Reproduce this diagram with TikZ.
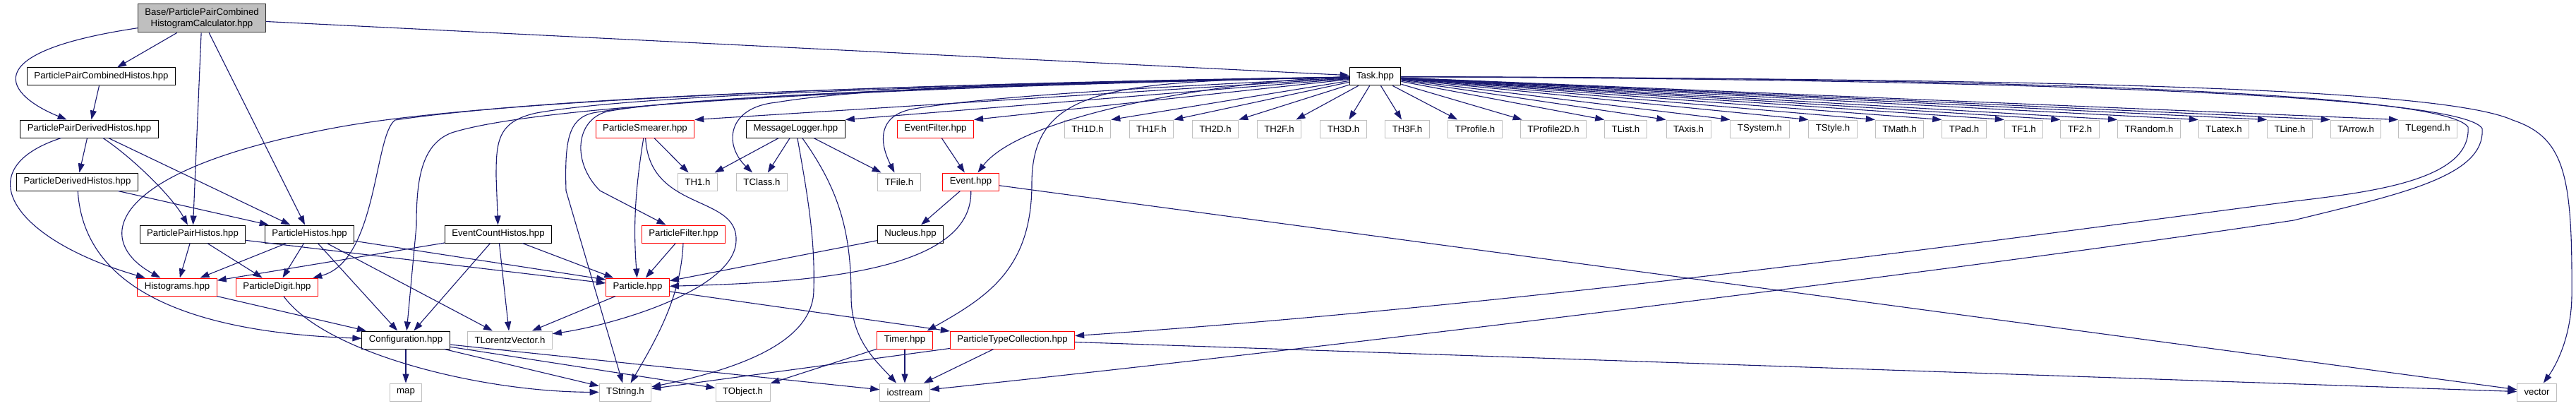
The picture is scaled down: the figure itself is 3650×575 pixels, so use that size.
\documentclass[tikz,border=0pt]{standalone}
\usepackage{fontspec}
\setmainfont{Liberation Sans}
\usetikzlibrary{arrows.meta}
\definecolor{edgec}{HTML}{191970}
\definecolor{extgray}{HTML}{BFBFBF}
\definecolor{truncred}{HTML}{FF0000}
\definecolor{basegray}{HTML}{BFBFBF}
\newcommand\nodefont{\fontsize{13.2}{15.5}\selectfont}
\begin{document}
\begin{tikzpicture}[x=1pt,y=-1pt,
  nbox/.style={rectangle, minimum height=25pt, inner xsep=10pt, inner ysep=0pt, font=\nodefont, line width=1pt, text=black},
  boxdoc/.style={nbox, draw=black},
  boxred/.style={nbox, draw=truncred},
  boxext/.style={nbox, draw=extgray},
  conn/.style={draw=edgec, line width=1.1pt, -{Triangle[length=13pt,width=9pt]}}]
\fill[white] (0,0) rectangle (3650,575);
\useasboundingbox (0,0) rectangle (3650,575);
% row A
\node[boxdoc, fill=basegray, draw=black!80, align=center, minimum height=40pt] (base) at (286,26) {Base/ParticlePairCombined\\HistogramCalculator.hpp};
% row B
\node[boxdoc] (ppch) at (143.5,108.5) {ParticlePairCombinedHistos.hpp};
\node[boxdoc] (task) at (1948.5,108.5) {Task.hpp};
% row C
\node[boxdoc] (ppdh) at (126.5,182.5) {ParticlePairDerivedHistos.hpp};
\node[boxred] (psmear) at (914,182.5) {ParticleSmearer.hpp};
\node[boxdoc] (mlog) at (1127.5,182.5) {MessageLogger.hpp};
\node[boxred] (efilter) at (1325.5,182.5) {EventFilter.hpp};
\node[boxext] (th1d) at (1541,182.5) {TH1D.h};
\node[boxext] (th1f) at (1631.5,182.5) {TH1F.h};
\node[boxext] (th2d) at (1722,182.5) {TH2D.h};
\node[boxext] (th2f) at (1812.5,182.5) {TH2F.h};
\node[boxext] (th3d) at (1903.5,182.5) {TH3D.h};
\node[boxext] (th3f) at (1994,182.5) {TH3F.h};
\node[boxext] (tprof) at (2090,182.5) {TProfile.h};
\node[boxext] (tproftwo) at (2201,182.5) {TProfile2D.h};
\node[boxext] (tlist) at (2303.5,182.5) {TList.h};
\node[boxext] (taxis) at (2392.5,182.5) {TAxis.h};
\node[boxext] (tsystem) at (2493.5,182.5) {TSystem.h};
\node[boxext] (tstyle) at (2597,182.5) {TStyle.h};
\node[boxext] (tmath) at (2691.5,182.5) {TMath.h};
\node[boxext] (tpad) at (2783,182.5) {TPad.h};
\node[boxext] (tfone) at (2867.5,182.5) {TF1.h};
\node[boxext] (tftwo) at (2947,182.5) {TF2.h};
\node[boxext] (trandom) at (3045,182.5) {TRandom.h};
\node[boxext] (tlatex) at (3151,182.5) {TLatex.h};
\node[boxext] (tline) at (3244.5,182.5) {TLine.h};
\node[boxext] (tarrow) at (3338,182.5) {TArrow.h};
\node[boxext] (tlegend) at (3440,182.5) {TLegend.h};
% row D
\node[boxdoc] (pdh) at (109.5,257.5) {ParticleDerivedHistos.hpp};
\node[boxext] (thone) at (988.5,257.5) {TH1.h};
\node[boxext] (tclass) at (1079.5,257.5) {TClass.h};
\node[boxext] (tfile) at (1274,257.5) {TFile.h};
\node[boxred] (event) at (1375.5,257.5) {Event.hpp};
% row E
\node[boxdoc] (pph) at (273,331.5) {ParticlePairHistos.hpp};
\node[boxdoc] (ph) at (438.5,331.5) {ParticleHistos.hpp};
\node[boxdoc] (ech) at (706,331.5) {EventCountHistos.hpp};
\node[boxred] (pfilter) at (968.5,331.5) {ParticleFilter.hpp};
\node[boxdoc] (nucleus) at (1290,331.5) {Nucleus.hpp};
% row F
\node[boxred] (hist) at (251,406.5) {Histograms.hpp};
\node[boxred] (pdigit) at (392.5,406.5) {ParticleDigit.hpp};
\node[boxred] (particle) at (903.5,406.5) {Particle.hpp};
% row G
\node[boxdoc] (conf) at (575,481.5) {Configuration.hpp};
\node[boxext] (tlv) at (722.5,481.5) {TLorentzVector.h};
\node[boxred] (timer) at (1282,481.5) {Timer.hpp};
\node[boxred] (ptc) at (1434.5,481.5) {ParticleTypeCollection.hpp};
% row H
\node[boxext] (map) at (575,555.5) {map};
\node[boxext] (tstring) at (886,555.5) {TString.h};
\node[boxext] (tobject) at (1052.5,555.5) {TObject.h};
\node[boxext] (iostream) at (1282,555.5) {iostream};
\node[boxext] (vector) at (3594.5,555.5) {vector};

% Base
\draw[conn] (base) -- (ppch);
\draw[conn] (base) .. controls (-40,75) and (10,135) .. (ppdh);
\draw[conn] (base) -- (pph);
\draw[conn] (base) -- (ph);
\draw[conn] (base) -- (task);
% PPCH, PPDH, PDH
\draw[conn] (ppch) -- (ppdh);
\draw[conn] (ppdh) -- (pdh);
\draw[conn] (ppdh) .. controls (-50,240) and (20,340) .. (hist);
\draw[conn] (ppdh) .. controls (190,225) and (245,280) .. (pph);
\draw[conn] (ppdh) -- (ph);
\draw[conn] (pdh) -- (ph);
\draw[conn] (pdh) .. controls (118,400) and (250,470) .. (conf);
% PPH, PH, ECH
\draw[conn] (pph) -- (hist);
\draw[conn] (pph) -- (pdigit);
\draw[conn] (pph) -- ([yshift=5.5pt]particle.west);
\draw[conn] (ph) -- (hist);
\draw[conn] (ph) -- (pdigit);
\draw[conn] (ph) -- (conf);
\draw[conn] (ph) -- (tlv);
\draw[conn] (ph) -- ([yshift=10.5pt]particle.west);
\draw[conn] (ech) -- (hist);
\draw[conn] (ech) -- (conf);
\draw[conn] (ech) -- (tlv);
\draw[conn] (ech) -- (particle);
% Histograms, ParticleDigit, Configuration
\draw[conn] (hist) -- (conf);
\draw[conn] (pdigit) .. controls (460,500) and (680,555) .. (tstring);
\draw[conn] (conf) -- (map);
\draw[conn] (conf) -- (tstring);
\draw[conn] (conf) -- (tobject);
\draw[conn] (conf) -- (iostream);
% Particle
\draw[conn] (particle) -- (tlv);
\draw[conn] (particle) -- (ptc);
% ParticleSmearer
\draw[conn] (psmear) -- (thone);
\draw[conn] (psmear) .. controls (898,280) and (898,330) .. (particle);
\draw[conn] (psmear) .. controls (920,300) and (1045,275) .. (1043,340) .. controls (1043,410) and (870,460) .. (tlv);
% MessageLogger
\draw[conn] (mlog) -- (thone);
\draw[conn] (mlog) -- (tclass);
\draw[conn] (mlog) -- (tfile);
\draw[conn] (mlog) .. controls (1145,280) and (1155,340) .. (1153,410) .. controls (1153,480) and (1060,520) .. (tstring);
\draw[conn] (mlog) .. controls (1190,270) and (1206,330) .. (1206,420) .. controls (1206,480) and (1240,510) .. (iostream);
% Event and friends
\draw[conn] (efilter) -- (event);
\draw[conn] (event) -- (nucleus);
\draw[conn] (event) .. controls (1378,385) and (1150,400) .. (particle);
\draw[conn] (event) -- (vector);
\draw[conn] (nucleus) -- (particle);
\draw[conn] (pfilter) -- (particle);
\draw[conn] (pfilter) .. controls (965,420) and (930,480) .. (tstring);
% Timer, PTC
\draw[conn] (timer) -- (iostream);
\draw[conn] (timer) -- (tobject);
\draw[conn] (ptc) -- (tstring);
\draw[conn] (ptc) -- (iostream);
\draw[conn] (ptc) -- (vector);
% Task: straight ones
\draw[conn] (task) -- (th1d.north east);
\draw[conn] (task) -- (th1f.north east);
\draw[conn] (task) -- (th2d.north east);
\draw[conn] (task) -- (th2f);
\draw[conn] (task) -- (th3d);
\draw[conn] (task) -- (th3f);
\draw[conn] (task) -- (tprof);
\draw[conn] (task) -- (tproftwo);
\draw[conn] (task) -- (tlist.north west);
\draw[conn] (task) -- (taxis.north west);
\draw[conn] (task) -- (tsystem.north west);
\draw[conn] (task) -- (tstyle.north west);
\draw[conn] (task) -- (tmath.north west);
\draw[conn] (task) -- (tpad.north west);
\draw[conn] (task) -- (tfone.north west);
\draw[conn] (task) -- (tftwo.north west);
\draw[conn] (task) -- (trandom.north west);
\draw[conn] (task) -- (tlatex.north west);
\draw[conn] (task) -- (tline.north west);
\draw[conn] (task) -- (tarrow.north west);
\draw[conn] (task) -- (tlegend.north west);
\draw[conn] (task) -- (psmear.north east);
\draw[conn] (task) -- (mlog.north east);
\draw[conn] (task) -- (efilter.north east);
% Task: curved ones to the left
\draw[conn] (task) .. controls (1300,118) and (700,140) .. (480,180) .. controls (150,240) and (130,340) .. (hist);
\draw[conn] (task) .. controls (1300,120) and (800,135) .. (560,170) .. controls (530,190) and (535,370) .. (pdigit);
\draw[conn] (task) .. controls (1200,125) and (760,150) .. (640,188) .. controls (595,205) and (590,260) .. (590,320) -- (conf);
\draw[conn] (task) .. controls (1300,122) and (900,135) .. (760,160) .. controls (705,172) and (703,200) .. (703,250) -- (ech);
\draw[conn] (task) .. controls (1300,122) and (950,140) .. (840,160) .. controls (805,168) and (800,200) .. (802,270) -- (tstring);
\draw[conn] (task) .. controls (1300,122) and (950,140) .. (860,158) .. controls (815,170) and (810,230) .. (850,270) -- (pfilter);
\draw[conn] (task) .. controls (1600,115) and (1250,120) .. (1100,145) .. controls (1030,152) and (1025,205) .. (tclass);
\draw[conn] (task) .. controls (1700,120) and (1400,135) .. (1290,155) .. controls (1245,165) and (1245,200) .. (tfile);
\draw[conn] (task) .. controls (1750,112) and (1450,160) .. (event);
\draw[conn] (task) .. controls (1580,115) and (1462,120) .. (1462,260) .. controls (1462,380) and (1400,420) .. ([xshift=-8pt]timer.north east);
% Task: curved ones to the right
\draw[conn] (task) .. controls (2700,110) and (3460,125) .. (3497,180) .. controls (3502,255) and (3360,272) .. (3250,285) .. controls (2900,330) and (2200,430) .. (ptc);
\draw[conn] (task) .. controls (2700,112) and (3485,128) .. (3517,182) .. controls (3522,250) and (3400,275) .. (3250,312) .. controls (2900,365) and (2000,480) .. (iostream);
\draw[conn] (task) .. controls (2800,112) and (3450,120) .. (3560,170) .. controls (3635,195) and (3645,250) .. (3644,420) .. controls (3643,480) and (3620,520) .. (vector);
\end{tikzpicture}
\end{document}
